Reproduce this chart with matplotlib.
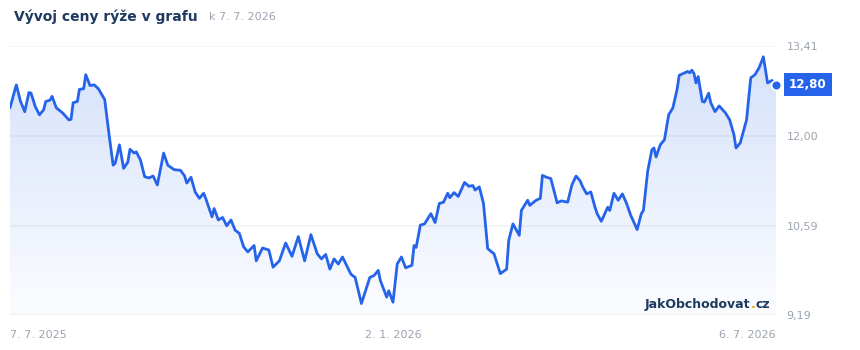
import numpy as np
import matplotlib
matplotlib.use("Agg")
import matplotlib.pyplot as plt
import matplotlib.dates as mdates

# ---- data ----
start_date = "2025-07-07"
end_date = "2026-07-06"
day_offsets = [0, 3, 5, 7, 9, 10, 12, 14, 16, 17, 19, 20, 22, 25, 28, 29, 30, 32, 33, 35,
               36, 38, 40, 42, 45, 47, 49, 50, 52, 54, 56, 57, 59, 60, 62, 64, 66, 68, 70, 73,
               75, 78, 81, 83, 84, 86, 88, 90, 92, 93, 96, 97, 99, 101, 103, 105, 107, 109, 111, 113,
               116, 117, 120, 123, 125, 128, 131, 134, 137, 140, 143, 146, 148, 150, 152, 154, 156, 158, 162, 164,
               167, 171, 173, 175, 176, 179, 180, 182, 184, 186, 188, 191, 192, 193, 195, 197, 200, 202, 204, 206,
               208, 209, 211, 213, 216, 218, 220, 221, 223, 225, 227, 230, 233, 236, 237, 239, 242, 243, 246, 247,
               250, 252, 253, 255, 257, 260, 262, 265, 267, 269, 271, 272, 274, 276, 278, 279, 281, 284, 285, 287,
               289, 291, 293, 295, 296, 298, 300, 301, 303, 305, 306, 307, 309, 311, 313, 315, 317, 318, 320, 322,
               323, 324, 325, 326, 327, 329, 330, 332, 333, 335, 337, 340, 342, 344, 345, 347, 350, 352, 354, 356,
               358, 360, 362, 364]
prices = [12.44, 12.80, 12.54, 12.38, 12.68, 12.67, 12.46, 12.33, 12.41, 12.54, 12.56, 12.62, 12.44, 12.36, 12.25, 12.26, 12.52, 12.54, 12.73, 12.74,
          12.96, 12.79, 12.80, 12.74, 12.57, 12.04, 11.54, 11.57, 11.86, 11.49, 11.59, 11.79, 11.73, 11.75, 11.62, 11.36, 11.34, 11.37, 11.23, 11.73,
          11.54, 11.47, 11.46, 11.37, 11.26, 11.35, 11.12, 11.02, 11.10, 11.02, 10.73, 10.86, 10.68, 10.72, 10.59, 10.68, 10.52, 10.47, 10.26, 10.18,
          10.28, 10.04, 10.24, 10.21, 9.94, 10.04, 10.32, 10.11, 10.42, 10.04, 10.45, 10.15, 10.07, 10.14, 9.91, 10.07, 9.99, 10.10, 9.83, 9.78,
          9.37, 9.78, 9.81, 9.89, 9.73, 9.47, 9.57, 9.39, 9.99, 10.10, 9.93, 9.97, 10.28, 10.25, 10.60, 10.62, 10.78, 10.64, 10.94, 10.96,
          11.10, 11.03, 11.11, 11.05, 11.27, 11.21, 11.22, 11.15, 11.20, 10.94, 10.23, 10.15, 9.84, 9.91, 10.36, 10.62, 10.44, 10.83, 10.99, 10.91,
          10.99, 11.02, 11.38, 11.35, 11.33, 10.95, 10.98, 10.96, 11.23, 11.37, 11.29, 11.21, 11.09, 11.12, 10.88, 10.78, 10.66, 10.88, 10.83, 11.10,
          10.99, 11.09, 10.94, 10.75, 10.68, 10.53, 10.78, 10.83, 11.44, 11.78, 11.81, 11.67, 11.86, 11.94, 12.33, 12.44, 12.73, 12.95, 12.98, 13.01,
          12.99, 13.03, 12.98, 12.83, 12.93, 12.54, 12.53, 12.67, 12.52, 12.38, 12.47, 12.36, 12.25, 12.02, 11.81, 11.89, 12.25, 12.91, 12.96, 13.07,
          13.24, 12.83, 12.87, 12.80]
y_ticks = [9.19, 10.59, 12.00, 13.41]
y_tick_labels = ["9,19", "10,59", "12,00", "13,41"]
x_labels = ["7. 7. 2025", "2. 1. 2026", "6. 7. 2026"]
title = "Vývoj ceny rýže v grafu"
subtitle = "k 7. 7. 2026"
last_label = "12,80"
brand_prefix = "JakObchodovat"
brand_dot = "."
brand_suffix = "cz"

LINE = "#2563eb"
NAVY = "#1e3a5f"
GRAY = "#9ca3af"
GRID = "#f1f2f4"
ORANGE = "#f59e0b"

dates = np.datetime64(start_date) + np.array(day_offsets).astype("timedelta64[D]")
x = mdates.date2num(dates.astype("datetime64[s]").astype(object))
y = np.array(prices)

W, H = 860, 350
fig = plt.figure(figsize=(W / 100, H / 100), dpi=100)
fig.patch.set_facecolor("white")
ax = fig.add_axes([10 / W, 1 - 315 / H, 766 / W, 269 / H])
ax.set_facecolor("white")
for s in ax.spines.values():
    s.set_visible(False)

x0 = mdates.date2num(np.datetime64(start_date).astype("datetime64[s]").astype(object))
x1 = mdates.date2num(np.datetime64(end_date).astype("datetime64[s]").astype(object))

# grid lines
for t in y_ticks:
    ax.axhline(t, color=GRID, lw=1.2, zorder=0)

# gradient fill
poly = ax.fill_between(x, y, y_ticks[0], color="none", lw=0)
grad = np.zeros((256, 1, 4))
grad[:, 0, 0] = 37 / 255
grad[:, 0, 1] = 99 / 255
grad[:, 0, 2] = 235 / 255
grad[:, 0, 3] = np.linspace(0.02, 0.19, 256)
im = ax.imshow(grad, aspect="auto", origin="lower",
               extent=[x0, x1, y_ticks[0], y.max()], zorder=1)
im.set_clip_path(poly.get_paths()[0], transform=ax.transData)
ax.set_xlim(x0, x1)
ax.set_ylim(y_ticks[0], y_ticks[-1])

# line
ax.plot(x[:-1], y[:-1], color=LINE, lw=2, solid_joinstyle="round",
        solid_capstyle="round", zorder=3)
ax.plot(x[-2:], y[-2:], color=LINE, lw=2, ls=(0, (1, 1.5)), zorder=3)
ax.plot([x[-1]], [y[-1]], "o", color=LINE, ms=7, mec="white", mew=1.2,
        zorder=4, clip_on=False)

# y tick labels on right
ax.set_yticks(y_ticks)
ax.set_yticklabels(y_tick_labels)
ax.yaxis.tick_right()
ax.tick_params(axis="y", length=0, pad=7.5, labelsize=8, labelcolor=GRAY)
ax.set_xticks([])

# x labels
for xpos, lab, ha in zip([0, 0.5, 1], x_labels, ["left", "center", "right"]):
    ax.text(xpos, -20 / 269, lab, transform=ax.transAxes, ha=ha,
            va="center", fontsize=8, color=GRAY)

# last price badge
ax.annotate(last_label, xy=(1, y[-1]), xycoords=("axes fraction", "data"),
            xytext=(32, 0), textcoords="offset pixels",
            ha="center", va="center", fontsize=8.6, fontweight="bold", color="white",
            bbox=dict(boxstyle="square,pad=0.42", fc=LINE, ec="none"),
            annotation_clip=False)

# title
fig.text(14 / W, 1 - 17 / H, title, fontsize=10, fontweight="bold", color=NAVY,
         ha="left", va="center")
fig.text(209 / W, 1 - 17 / H, subtitle, fontsize=8, color=GRAY, ha="left", va="center")

# watermark: three pieces positioned from measured widths
renderer = fig.canvas.get_renderer()
def _w(s):
    t = fig.text(0, 0, s, fontsize=9, fontweight="bold")
    w = t.get_window_extent(renderer).width
    t.remove()
    return w
w_full = _w(brand_prefix + brand_dot + brand_suffix)
w_pre_dot = _w(brand_prefix + brand_dot)
right_px = 770
base_y = 1 - 308 / H
left_px = right_px - w_full
fig.text(left_px / W, base_y, brand_prefix, fontsize=9, fontweight="bold", color=NAVY,
         ha="left", va="baseline", zorder=5)
fig.text((left_px + w_pre_dot) / W, base_y, brand_dot, fontsize=9, fontweight="bold",
         color=ORANGE, ha="right", va="baseline", zorder=6)
fig.text(right_px / W, base_y, brand_suffix, fontsize=9, fontweight="bold", color=NAVY,
         ha="right", va="baseline", zorder=5)

fig.savefig("out.png", dpi=100, facecolor="white")
